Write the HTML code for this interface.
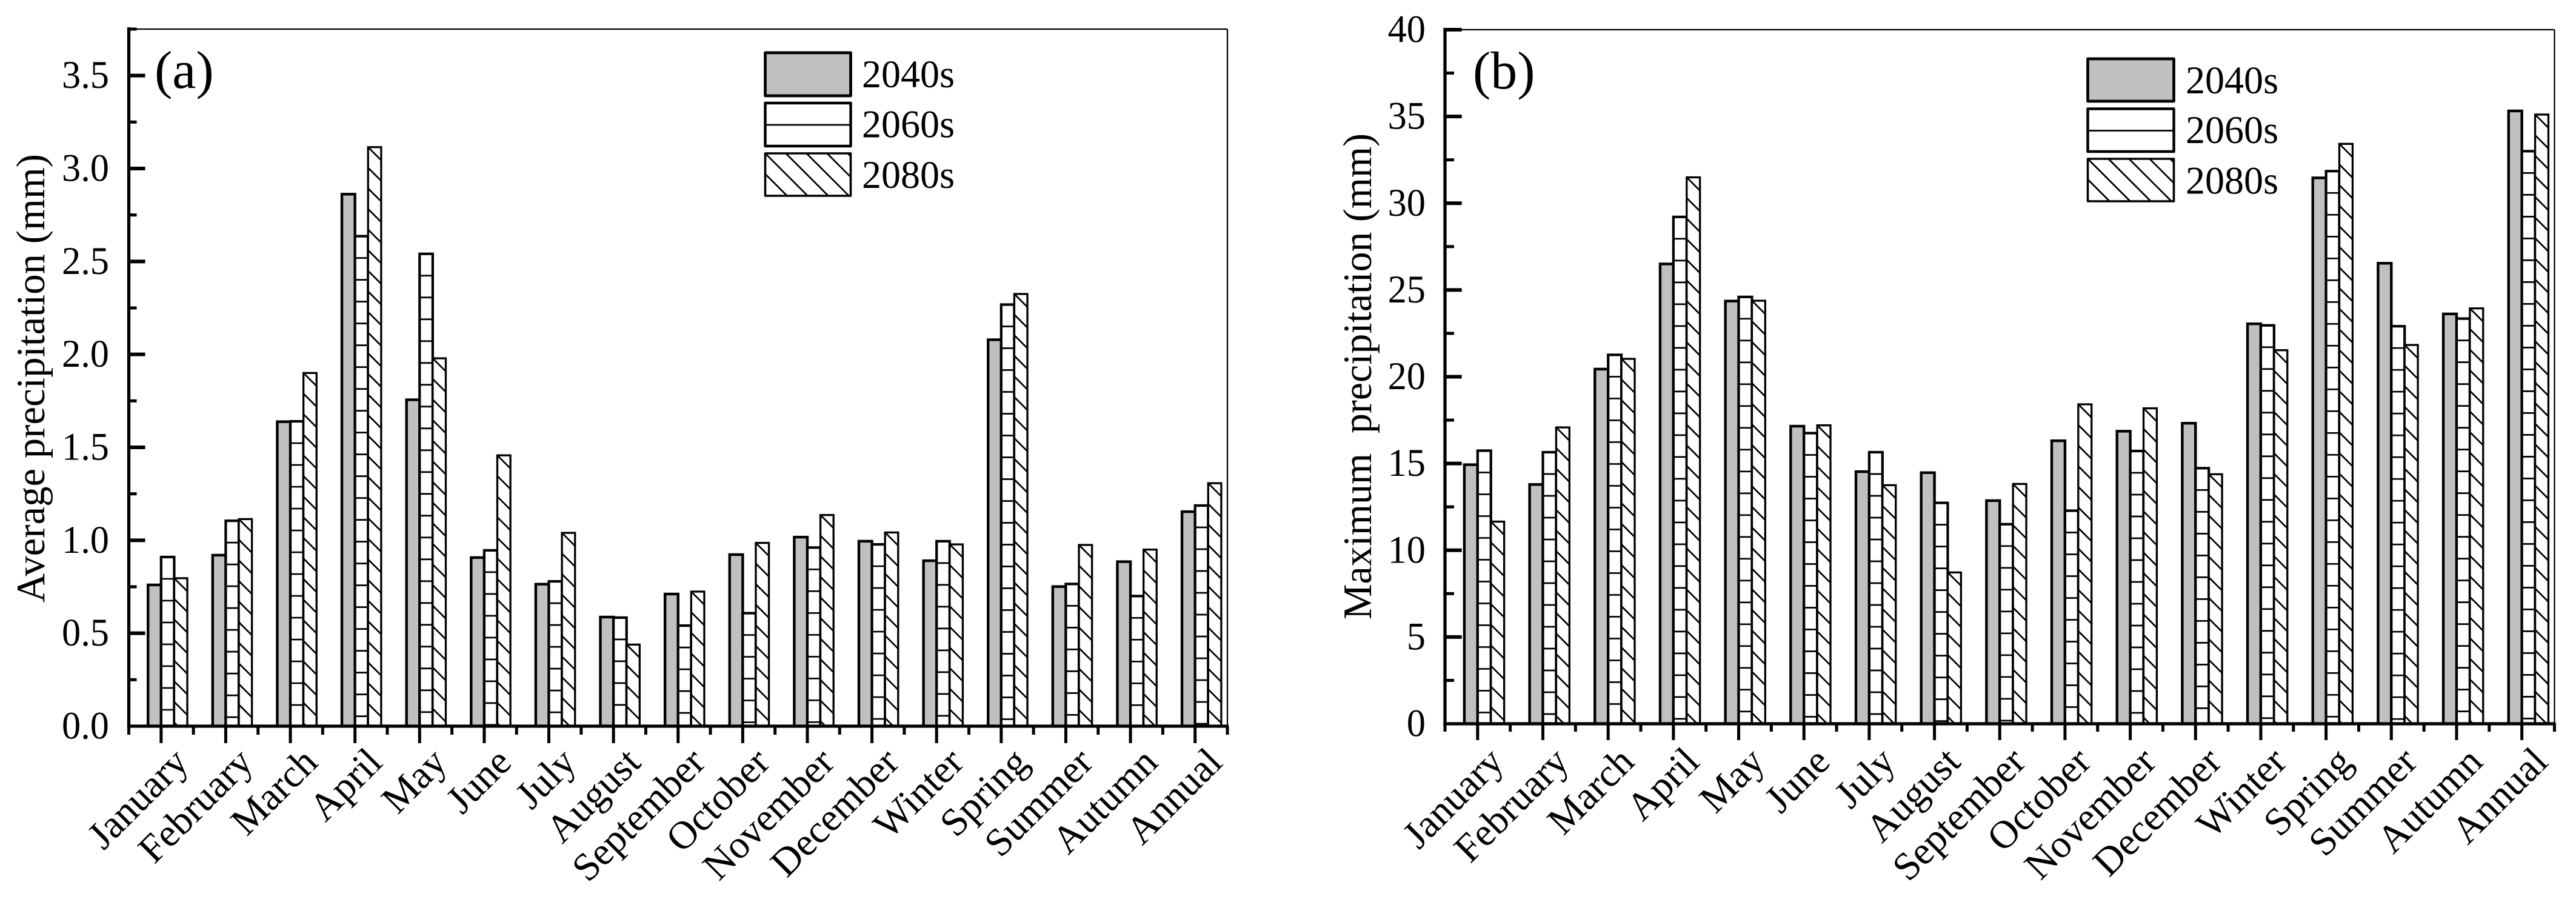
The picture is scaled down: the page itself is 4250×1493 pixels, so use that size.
<!DOCTYPE html>
<html lang="en">
<head>
<meta charset="utf-8">
<title>Average and maximum precipitation by period</title>
<style>
html,body{margin:0;padding:0;background:#fff;}
svg{display:block;}
text{font-family:"Liberation Serif",serif;fill:#000;white-space:pre;}
</style>
</head>
<body>
<svg id="figure" xmlns="http://www.w3.org/2000/svg" width="4250" height="1493" viewBox="0 0 4250 1493">
  <rect x="0" y="0" width="4250" height="1493" fill="#fff"/>
  <g id="panel-a"></g>
  <g id="panel-b"></g>
</svg>
<script>
const categories = ['January','February','March','April','May','June','July','August','September','October','November','December','Winter','Spring','Summer','Autumn','Annual'];
const seriesNames = ['2040s','2060s','2080s'];

const avg2040s = [0.76,0.92,1.638,2.862,1.756,0.907,0.764,0.587,0.711,0.923,1.017,0.995,0.89,2.079,0.751,0.885,1.154];
const avg2060s = [0.91,1.105,1.64,2.636,2.541,0.946,0.779,0.584,0.541,0.608,0.961,0.978,0.995,2.268,0.765,0.70,1.187];
const avg2080s = [0.796,1.114,1.90,3.115,1.979,1.457,1.04,0.439,0.724,0.986,1.136,1.042,0.978,2.325,0.975,0.95,1.307];

const max2040s = [14.93,13.79,20.44,26.5,24.36,17.15,14.53,14.47,12.86,16.31,16.86,17.32,23.05,31.46,26.54,23.62,35.32];
const max2060s = [15.74,15.65,21.26,29.21,24.6,16.75,15.65,12.73,11.5,12.28,15.72,14.73,22.96,31.85,22.91,23.35,33.0];
const max2080s = [11.65,17.08,21.03,31.49,24.38,17.2,13.75,8.72,13.82,18.41,18.18,14.38,21.53,33.42,21.83,23.94,35.11];

const avgTickLabels = ['0.0','0.5','1.0','1.5','2.0','2.5','3.0','3.5'];
const maxTickLabels = ['0','5','10','15','20','25','30','35','40'];

const SVG_NS = 'http://www.w3.org/2000/svg';

function make(parent, tag, attrs, name, interactable) {
  const node = document.createElementNS(SVG_NS, tag);
  for (const key in attrs) { node.setAttribute(key, attrs[key]); }
  
  
  parent.appendChild(node);
  return node;
}

const HATCH_H = 36;
const HATCH_D = 34;

function drawHorizontalHatch(parent, x, y, w, bottom, name) {
  for (let ly = y + HATCH_H; ly < bottom; ly += HATCH_H) {
    make(parent, 'line', {x1:x, x2:x+w, y1:ly, y2:ly, stroke:'#000', 'stroke-width':2.7}, name, 'false');
  }
}

function drawDiagonalHatch(parent, x, y, w, bottom, name) {
  const h = bottom - y;
  for (let c = -Math.ceil(h / HATCH_D) * HATCH_D; c < w; c += HATCH_D) {
    // family of lines x - y = c relative to the top-left corner
    const startX = Math.max(0, c);
    const startY = startX - c;
    const endX = Math.min(w, h + c);
    const endY = endX - c;
    if (endX <= startX) { continue; }
    make(parent, 'line', {x1:x+startX, y1:y+startY, x2:x+endX, y2:y+endY, stroke:'#000', 'stroke-width':2.7}, name, 'false');
  }
}

const seriesStyle = [
  {fill:'#c0c0c0', stroke:4.4},
  {fill:'#ffffff', stroke:4.2},
  {fill:'#ffffff', stroke:3.3}
];

function drawPanel(cfg) {
  const root = document.getElementById(cfg.id);
  const n = categories.length;
  const xStep = (cfg.right - cfg.left) / n;
  const xScale = i => cfg.left + xStep * (i + 0.5);
  const yScale = v => cfg.y0 - (v / cfg.yMax) * (cfg.y0 - cfg.top);

  // bars
  cfg.series.forEach((values, s) => {
    const group = make(root, 'g', {}, 'series-' + seriesNames[s], 'false');
    values.forEach((v, i) => {
      const bx = xScale(i) + (s - 1) * cfg.barW;
      const by = yScale(v);
      if (s === 1) { /* 2060s bar begins on the tick */ }
      make(group, 'rect', {x:bx, y:by, width:cfg.barW, height:cfg.y0-by, fill:seriesStyle[s].fill, stroke:'none'}, 'bar-' + seriesNames[s] + '-' + categories[i].toLowerCase() + '-fill', 'false');
      if (s === 1) { drawHorizontalHatch(group, bx, by, cfg.barW, cfg.y0, 'bar-hatch-line'); }
      if (s === 2) { drawDiagonalHatch(group, bx, by, cfg.barW, cfg.y0, 'bar-hatch-line'); }
      make(group, 'rect', {x:bx, y:by, width:cfg.barW, height:cfg.y0-by, fill:'none', stroke:'#000', 'stroke-width':seriesStyle[s].stroke}, 'bar-' + seriesNames[s] + '-' + categories[i].toLowerCase(), 'false');
    });
  });

  // frame
  make(root, 'line', {x1:cfg.left, x2:cfg.right, y1:cfg.top, y2:cfg.top, stroke:'#000', 'stroke-width':2.2}, 'top-frame-line', 'false');
  make(root, 'line', {x1:cfg.right, x2:cfg.right, y1:cfg.top, y2:cfg.y0, stroke:'#000', 'stroke-width':2.2}, 'right-frame-line', 'false');
  make(root, 'line', {x1:cfg.left, x2:cfg.left, y1:cfg.top-3, y2:cfg.y0+2.6, stroke:'#000', 'stroke-width':5.3}, 'y-axis-line', 'false');
  make(root, 'line', {x1:cfg.left-2.6, x2:cfg.right+2, y1:cfg.y0, y2:cfg.y0, stroke:'#000', 'stroke-width':5.3}, 'x-axis-line', 'false');

  // y ticks
  const labels = cfg.tickLabels;
  const step = parseFloat(labels[1]) - parseFloat(labels[0]);
  labels.forEach(lbl => {
    const v = parseFloat(lbl);
    const ty = yScale(v);
    if (v > 0) {
      make(root, 'line', {x1:cfg.left, x2:cfg.left+cfg.majorY, y1:ty, y2:ty, stroke:'#000', 'stroke-width':6}, 'y-major-tick', 'false');
    }
    const t = make(root, 'text', {'font-size':65, 'text-anchor':'end', transform:'translate(' + cfg.tickLabelX + ',' + (ty + 20.5) + ') scale(0.96,1)'}, 'y-tick-label-' + lbl, 'false');
    t.textContent = lbl;
    if (v + step / 2 <= cfg.yMax) {
      const my = yScale(v + step / 2);
      make(root, 'line', {x1:cfg.left, x2:cfg.left+cfg.minorY, y1:my, y2:my, stroke:'#000', 'stroke-width':5}, 'y-minor-tick', 'false');
    }
  });

  // x ticks and labels
  categories.forEach((name, i) => {
    const tx = xScale(i);
    make(root, 'line', {x1:tx, x2:tx, y1:cfg.y0, y2:cfg.y0+cfg.majorX, stroke:'#000', 'stroke-width':5}, 'x-major-tick', 'false');
    const edge = cfg.left + xStep * i;
    make(root, 'line', {x1:edge, x2:edge, y1:cfg.y0, y2:cfg.y0+cfg.minorX, stroke:'#000', 'stroke-width':5}, 'x-minor-tick', 'false');
    const lx = tx + cfg.labelDx;
    const ly = cfg.y0 + cfg.labelDy;
    const t = make(root, 'text', {'font-size':65, 'text-anchor':'end', transform:'translate(' + lx + ',' + ly + ') rotate(-45)'}, 'x-tick-label-' + name.toLowerCase(), 'false');
    t.textContent = name;
  });
  make(root, 'line', {x1:cfg.right, x2:cfg.right, y1:cfg.y0, y2:cfg.y0+cfg.minorX, stroke:'#000', 'stroke-width':5}, 'x-minor-tick', 'false');

  // axis title
  const title = make(root, 'text', {'font-size':cfg.titleSize, 'text-anchor':'middle', textLength:cfg.titleLen, lengthAdjust:'spacingAndGlyphs', transform:'translate(' + cfg.titleX + ',' + cfg.titleY + ') rotate(-90)'}, 'y-axis-title', 'false');
  title.textContent = cfg.title;

  // panel tag
  const tag = make(root, 'text', {'font-size':88, x:cfg.tagX, y:cfg.tagY}, 'panel-label', 'false');
  tag.textContent = cfg.tag;

  // legend
  const legend = make(root, 'g', {}, 'legend', 'false');
  seriesNames.forEach((name, s) => {
    const entry = make(legend, 'g', {}, 'legend-entry-' + name, 'false');
    const box = cfg.legendBoxes[s];
    const w = cfg.legendW;
    const h = box[1] - box[0];
    make(entry, 'rect', {x:cfg.legendX, y:box[0], width:w, height:h, fill:seriesStyle[s].fill}, 'legend-swatch-fill', 'false');
    if (s === 1) { drawHorizontalHatch(entry, cfg.legendX, box[0], w, box[1], 'legend-hatch-line'); }
    if (s === 2) { drawDiagonalHatch(entry, cfg.legendX, box[0], w, box[1], 'legend-hatch-line'); }
    make(entry, 'rect', {x:cfg.legendX, y:box[0], width:w, height:h, fill:'none', stroke:'#000', 'stroke-width':seriesStyle[s].stroke + 0.3, 'stroke-linejoin':'round'}, 'legend-swatch', 'false');
    const t = make(entry, 'text', {'font-size':65, x:cfg.legendTextX, y:cfg.legendBase[s], textLength:153, lengthAdjust:'spacingAndGlyphs'}, 'legend-label', 'false');
    t.textContent = name;
  });
}

drawPanel({
  id:'panel-a', left:212.5, right:2025, top:48, y0:1198, yMax:3.75, barW:21.6,
  series:[avg2040s, avg2060s, avg2080s], tickLabels:avgTickLabels,
  tickLabelX:180, majorY:27, minorY:13, majorX:28, minorX:14, labelDx:48, labelDy:63,
  title:'Average precipitation (mm)', titleSize:67, titleLen:740, titleX:73, titleY:624,
  tag:'(a)', tagX:255, tagY:145,
  legendX:1262.5, legendW:141, legendBoxes:[[87,158],[170,241],[253,323]], legendBase:[144,226.5,310], legendTextX:1422
});
drawPanel({
  id:'panel-b', left:2384, right:4214.5, top:49, y0:1194, yMax:40, barW:21.9,
  series:[max2040s, max2060s, max2080s], tickLabels:maxTickLabels,
  tickLabelX:2352, majorY:27.7, minorY:15, majorX:27, minorX:13, labelDx:46, labelDy:66,
  title:'Maximum  precipitation (mm)', titleSize:67, titleLen:802, titleX:2262, titleY:621,
  tag:'(b)', tagX:2430, tagY:146,
  legendX:3444.5, legendW:142, legendBoxes:[[97,167],[179.5,250],[262,332]], legendBase:[154,236,319.5], legendTextX:3606
});
</script>
</body>
</html>
